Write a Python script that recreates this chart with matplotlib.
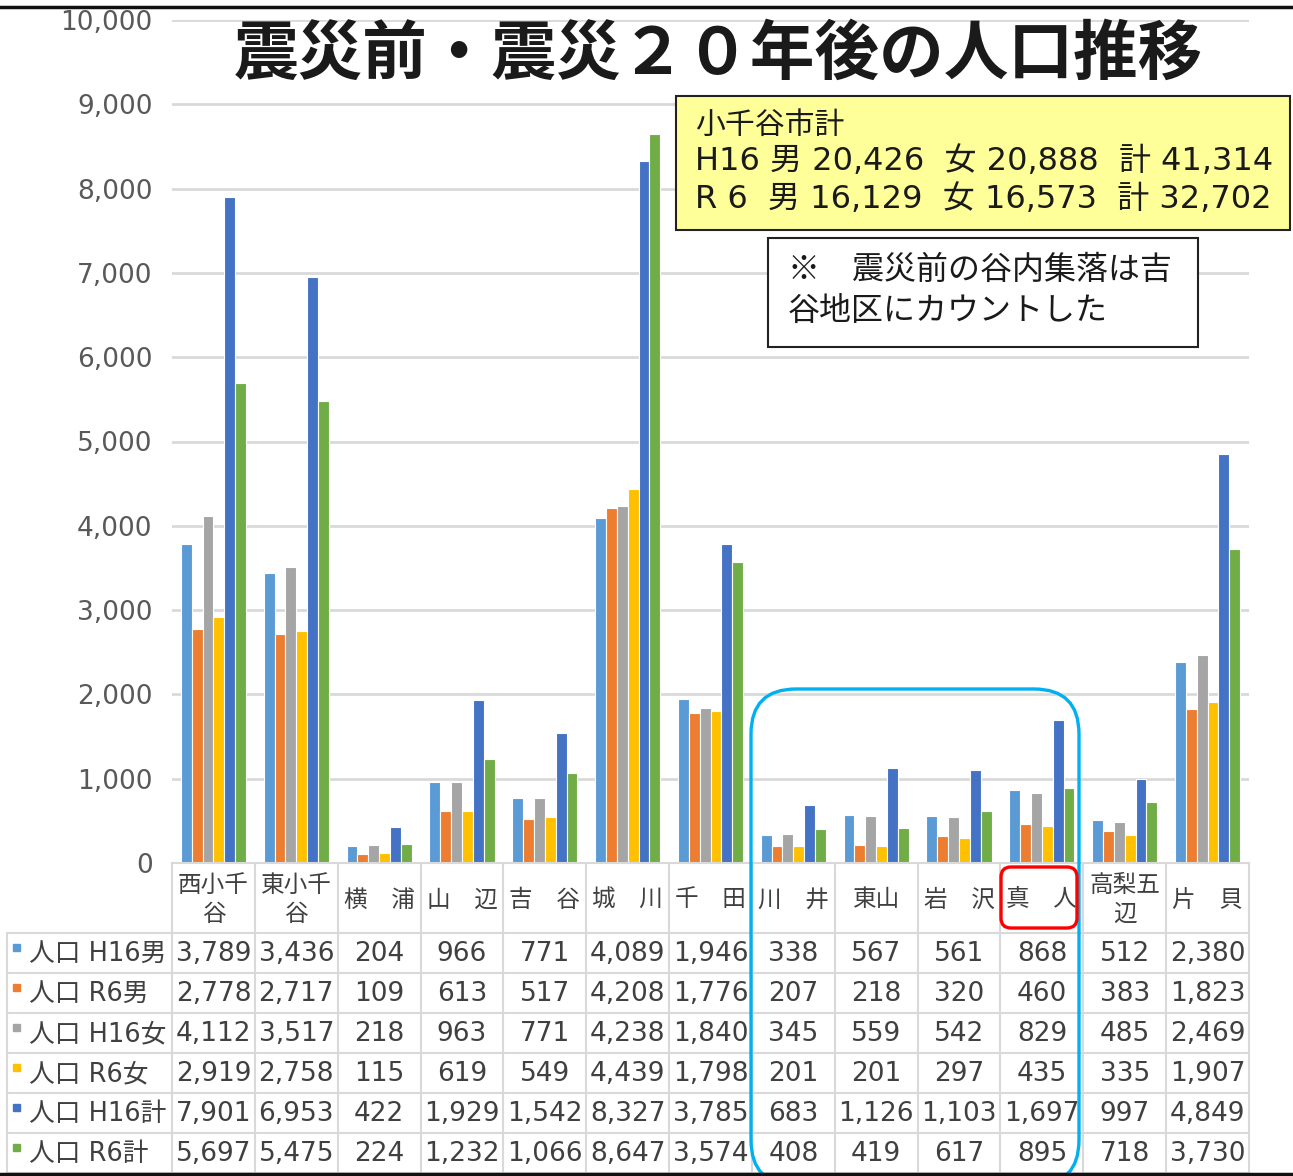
import matplotlib
matplotlib.use("Agg")
import matplotlib.pyplot as plt
from matplotlib.lines import Line2D
from matplotlib.patches import Rectangle, FancyBboxPatch
import numpy as np

plt.rcParams['font.family'] = ['Noto Sans CJK JP', 'DejaVu Sans']
NUMFONT = ['DejaVu Sans', 'Noto Sans CJK JP']

categories = ['西小千\n谷', '東小千\n谷', '横　浦', '山　辺', '吉　谷', '城　川', '千　田',
              '川　井', '東山', '岩　沢', '真　人', '高梨五\n辺', '片　貝']
series_names = ['人口 H16男', '人口 R6男', '人口 H16女', '人口 R6女', '人口 H16計', '人口 R6計']
h16_m = [3789, 3436, 204, 966, 771, 4089, 1946, 338, 567, 561, 868, 512, 2380]
r6_m = [2778, 2717, 109, 613, 517, 4208, 1776, 207, 218, 320, 460, 383, 1823]
h16_f = [4112, 3517, 218, 963, 771, 4238, 1840, 345, 559, 542, 829, 485, 2469]
r6_f = [2919, 2758, 115, 619, 549, 4439, 1798, 201, 201, 297, 435, 335, 1907]
h16_t = [7901, 6953, 422, 1929, 1542, 8327, 3785, 683, 1126, 1103, 1697, 997, 4849]
r6_t = [5697, 5475, 224, 1232, 1066, 8647, 3574, 408, 419, 617, 895, 718, 3730]
series = [h16_m, r6_m, h16_f, r6_f, h16_t, r6_t]
colors = ['#5B9BD5', '#ED7D31', '#A5A5A5', '#FFC000', '#4472C4', '#70AD47']
yticks = [0, 1000, 2000, 3000, 4000, 5000, 6000, 7000, 8000, 9000, 10000]

title = '震災前・震災２０年後の人口推移'
summary_lines = ['小千谷市計', 'H16 男 20,426  女 20,888  計 41,314', 'R 6  男 16,129  女 16,573  計 32,702']
note_lines = ['※　震災前の谷内集落は吉', '谷地区にカウントした']

W, H = 1293, 1176
fig = plt.figure(figsize=(W / 100, H / 100), dpi=100)
fig.patch.set_facecolor('white')

AX_L, AX_R, AX_T, AX_B = 172, 1249, 20, 863
ax = fig.add_axes([AX_L / W, 1 - AX_B / H, (AX_R - AX_L) / W, (AX_B - AX_T) / H])

n = len(categories)
x = np.arange(n)
slot = 0.131
for i, (vals, c) in enumerate(zip(series, colors)):
    ax.bar(x + (i - 2.5) * slot, vals, width=slot, color=c, edgecolor='white',
           linewidth=0.8, zorder=3, label=series_names[i])

ax.set_xlim(-0.5, n - 0.5)
ax.set_ylim(0, 10000)
ax.set_yticks(yticks)
ax.set_yticklabels([f'{v:,}' for v in yticks], family=NUMFONT, fontsize=19, color='#595959')
ax.tick_params(axis='y', length=0, pad=14)
ax.set_xticks([])
ax.yaxis.grid(True, color='#D9D9D9', linewidth=2, zorder=0)
ax.set_axisbelow(True)
for s in ax.spines.values():
    s.set_visible(False)

tr = fig.dpi_scale_trans


def P(px, py):
    return (px / 100, (H - py) / 100)


def line(x0, y0, x1, y1, color='#D9D9D9', lw=1.5, z=5):
    a, b = P(x0, y0)
    c, d = P(x1, y1)
    fig.add_artist(Line2D([a, c], [b, d], color=color, lw=lw, transform=tr, zorder=z))


def text(px, py, s, **kw):
    a, b = P(px, py)
    fig.text(a, b, s, transform=tr, **kw)


# table
cw = (AX_R - AX_L) / n
hdr_top, hdr_bot = 863, 933
row_h = 40
tab_left = 7
n_rows = len(series)
bottom = hdr_bot + n_rows * row_h

line(AX_L, hdr_top, AX_R, hdr_top)
for i in range(n + 1):
    xx = AX_L + i * cw
    line(xx, hdr_top, xx, bottom)
line(tab_left, hdr_bot, tab_left, bottom)
for r in range(n_rows + 1):
    yy = hdr_bot + r * row_h
    line(tab_left, yy, AX_R, yy)

for i, cat in enumerate(categories):
    cx = AX_L + (i + 0.5) * cw
    text(cx, (hdr_top + hdr_bot) / 2 + 2, cat, ha='center', va='center', fontsize=17,
         color='#404040', linespacing=1.3)

for r, (name, vals, c) in enumerate(zip(series_names, series, colors)):
    cy = hdr_bot + (r + 0.5) * row_h
    a, b = P(13, cy - 9)
    fig.add_artist(Rectangle((a, b - 0.07), 0.07, 0.07, transform=tr, color=c, zorder=6))
    text(29, cy + 1, name, ha='left', va='center', fontsize=18.5, color='#404040', family=NUMFONT)
    for i, v in enumerate(vals):
        cx = AX_L + (i + 0.5) * cw
        text(cx, cy + 1, f'{v:,}', ha='center', va='center', fontsize=19, color='#404040',
             family=NUMFONT)

# title
text(718, 55, title, ha='center', va='center', fontsize=46.5, fontweight='bold', color='#1a1a1a')

# yellow summary box
a, b = P(676, 230)
fig.add_artist(Rectangle((a, b), (1290 - 676) / 100, (230 - 96) / 100, transform=tr,
                         facecolor='#FFFF99', edgecolor='#222222', lw=1.5, zorder=7))
text(695, 125, summary_lines[0], ha='left', va='center', fontsize=21.5, color='#1a1a1a', zorder=8)
text(695, 162, summary_lines[1], ha='left', va='center', fontsize=23, color='#1a1a1a', zorder=8,
     family=NUMFONT)
text(695, 200, summary_lines[2], ha='left', va='center', fontsize=23, color='#1a1a1a', zorder=8,
     family=NUMFONT)

# note box
a, b = P(768, 347)
fig.add_artist(Rectangle((a, b), (1198 - 768) / 100, (347 - 238) / 100, transform=tr,
                         facecolor='white', edgecolor='#222222', lw=1.5, zorder=7))
text(788, 270, note_lines[0], ha='left', va='center', fontsize=23, color='#1a1a1a', zorder=8)
text(788, 311, note_lines[1], ha='left', va='center', fontsize=23, color='#1a1a1a', zorder=8)

# blue highlight
a, b = P(751, 1185)
fig.add_artist(FancyBboxPatch((a, b), (1079 - 751) / 100, (1185 - 689) / 100,
                              boxstyle='round,pad=0,rounding_size=0.45', transform=tr,
                              facecolor='none', edgecolor='#00B0F0', lw=2.4, zorder=9))
# red highlight
a, b = P(1001, 928)
fig.add_artist(FancyBboxPatch((a, b), (1077 - 1001) / 100, (928 - 867) / 100,
                              boxstyle='round,pad=0,rounding_size=0.1', transform=tr,
                              facecolor='none', edgecolor='#FF0000', lw=2.4, zorder=9))

# frame lines
line(0, 7, W, 7, color='#111111', lw=2.5, z=10)
line(0, 1174, W, 1174, color='#111111', lw=2.5, z=10)

fig.savefig('out.png', dpi=100)
